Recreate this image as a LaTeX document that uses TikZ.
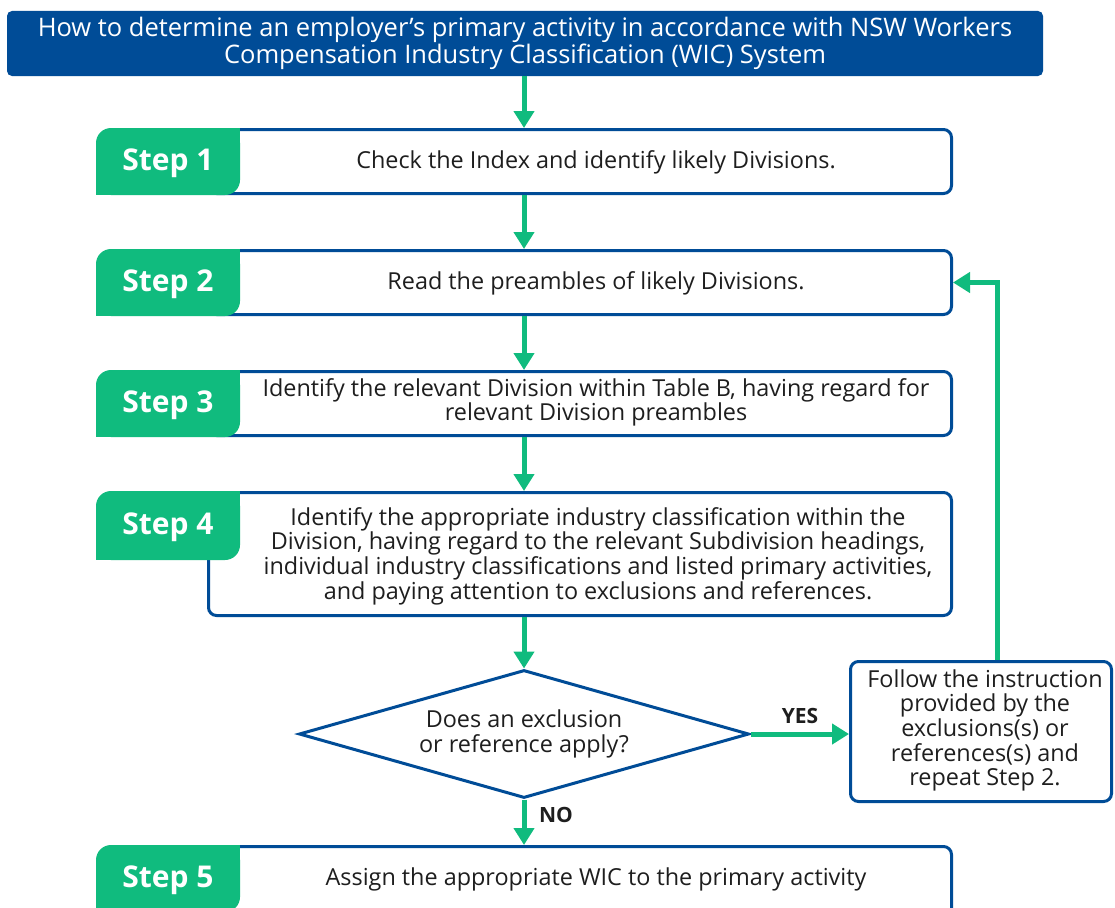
\documentclass[tikz,border=0pt]{standalone}
\usepackage{fontspec}
\setmainfont{Open Sans}
\usetikzlibrary{arrows.meta,shapes.geometric,calc}
\definecolor{nswblue}{RGB}{0,76,151}
\definecolor{nswgreen}{RGB}{16,187,126}
\definecolor{txt}{RGB}{30,30,30}
\newcommand\steptab[4]{%
  \fill[nswgreen,rounded corners=15pt] (96,#1) rectangle (240,#2);
  \fill[nswgreen] (200,#1) rectangle (240,{(#1+#2)/2});
  \fill[nswgreen] (96,{(#1+#2)/2}) rectangle (140,#2);
  \node[steplabel] (#4) at (168,{(#1+#2)/2+1.5}) {#3};
}
\begin{document}
\begin{tikzpicture}[x=1pt,y=-1pt,
  stepbox/.style={draw=nswblue,line width=3pt,rounded corners=8pt,fill=white,minimum width=743pt,inner sep=0pt},
  body/.style={text=txt,font=\fontsize{23.4}{24.6}\selectfont,align=center,inner sep=0pt},
  steplabel/.style={text=white,font=\fontsize{30}{32}\selectfont\bfseries,inner sep=0pt},
  yn/.style={text=txt,font=\fontsize{21}{24}\selectfont\bfseries,inner sep=0pt},
  arr/.style={draw=nswgreen,line width=5pt,-{Triangle[width=20pt,length=17pt]}}]
\clip (0,0) rectangle (1115,907);
\fill[white] (0,0) rectangle (1115,907);
\coordinate (ax) at (524,0);
% title
\node[fill=nswblue,rounded corners=5pt,minimum width=1036pt,minimum height=65pt,inner sep=0pt,
  text=white,font=\fontsize{25.5}{27}\selectfont,align=center] (title) at (525,43.5)
  {How to determine an employer’s primary activity in accordance with NSW Workers\\Compensation Industry Classification (WIC) System};
% step boxes
\node[stepbox,minimum height=64pt] (s1) at (580,161.5) {};
\node[stepbox,minimum height=64pt] (s2) at (580,282.5) {};
\node[stepbox,minimum height=64pt] (s3) at (580,403.5) {};
\node[stepbox,minimum height=123pt] (s4) at (580,554) {};
\node[stepbox,minimum height=70pt] (s5) at (580,881.5) {};
\steptab{128}{195}{Step 1}{t1}
\steptab{249}{316}{Step 2}{t2}
\steptab{370}{437}{Step 3}{t3}
\steptab{491}{560}{Step 4}{t4}
\steptab{845}{912}{Step 5}{t5}
\node[body] (s1t) at (596,162.5) {Check the Index and identify likely Divisions.};
\node[body] (s2t) at (596,283.5) {Read the preambles of likely Divisions.};
\node[body] (s3t) at (596,402.5) {Identify the relevant Division within Table B, having regard for\\relevant Division preambles};
\node[body] (s4t) at (598,556) {Identify the appropriate industry classification within the\\Division, having regard to the relevant Subdivision headings,\\individual industry classifications and listed primary activities,\\and paying attention to exclusions and references.};
\node[body] (s5t) at (596,879.5) {Assign the appropriate WIC to the primary activity};
% decision
\node[diamond,draw=nswblue,line width=3pt,fill=white,minimum width=450pt,minimum height=128pt,
  shape aspect=3.5,inner sep=0pt,body] (dec) at (524,734) {Does an exclusion\\or reference apply?};
% right box
\node[draw=nswblue,line width=3pt,rounded corners=8pt,fill=white,minimum width=261pt,minimum height=140pt,
  inner sep=0pt] (fb) at (981,731.5) {};
\node[body] (fbt) at (985,730.5) {Follow the instruction\\provided by the\\exclusions(s) or\\references(s) and\\repeat Step 2.};
% arrows
\draw[arr] (title.south -| ax) -- (s1.north -| ax);
\draw[arr] (s1.south -| ax) -- (s2.north -| ax);
\draw[arr] (s2.south -| ax) -- (s3.north -| ax);
\draw[arr] (s3.south -| ax) -- (s4.north -| ax);
\draw[arr] (s4.south -| ax) -- (dec.north);
\draw[arr] (dec.south) -- (s5.north -| ax);
\draw[arr] (dec.east) -- (fb.west |- dec.east);
\coordinate (turn) at (997,282.5);
\draw[arr] (fb.north -| turn) -- (turn) -- (s2.east |- turn);
\node[yn] (yes) at (800,716) {YES};
\node[yn] (no) at (556,815) {NO};
\end{tikzpicture}
\end{document}
